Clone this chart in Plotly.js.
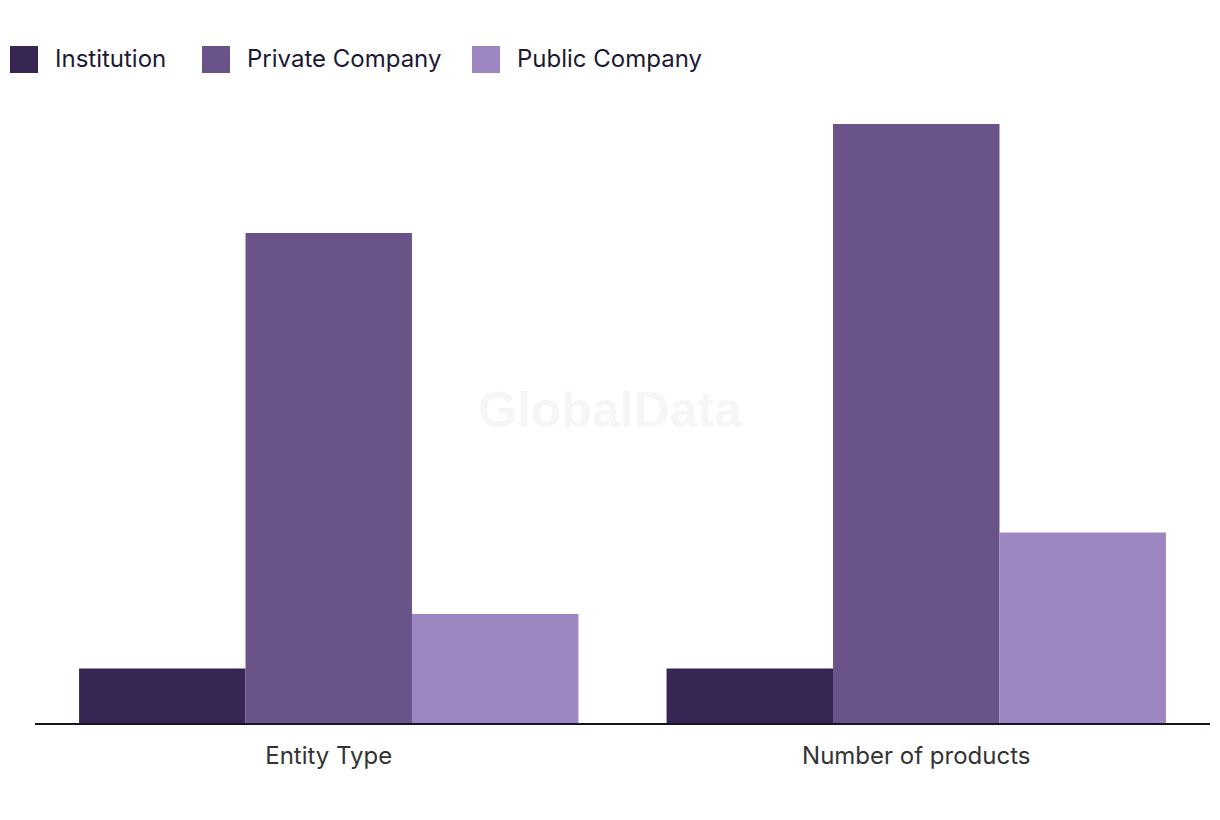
<!DOCTYPE html>
<html>
<head>
<meta charset="utf-8">
<script src="https://cdn.plot.ly/plotly-3.0.1.min.js"></script>
<style>html,body{margin:0;padding:0;background:#fff}#chart{width:1220px;height:820px}</style>
</head>
<body>
<div id="chart"></div>
<script>
const categories = ["Entity Type", "Number of products"];
const seriesNames = ["Institution", "Private Company", "Public Company"];
const institution = [2, 2];
const privateCompany = [18, 22];
const publicCompany = [4, 7];
const colors = ["#372554", "#6a5389", "#9e87c0"];

const seriesValues = [institution, privateCompany, publicCompany];
const traces = seriesNames.map((name, i) => ({
  type: "bar",
  name: name,
  x: categories,
  y: seriesValues[i],
  marker: { color: colors[i], line: { width: 0 } },
  hoverinfo: "x+y+name"
}));

const legendX = [10, 202, 472];
const shapes = [];
const annotations = [];
seriesNames.forEach((name, i) => {
  shapes.push({
    type: "rect", xref: "paper", yref: "paper",
    x0: (legendX[i] - 35) / 1175, x1: (legendX[i] + 28 - 35) / 1175,
    y0: (723 - 73) / 623, y1: (723 - 46) / 623,
    fillcolor: colors[i], line: { width: 0 }
  });
  annotations.push({
    xref: "paper", yref: "paper",
    x: (legendX[i] + 43 - 35) / 1175, y: (723 - 58) / 623,
    xanchor: "left", yanchor: "middle", showarrow: false,
    text: name, font: { family: "Inter, sans-serif", size: 24, color: "#1c1a33" }
  });
});
annotations.push({
  xref: "paper", yref: "paper", x: (610 - 35) / 1175, y: (723 - 410) / 623,
  xanchor: "center", yanchor: "middle", showarrow: false,
  text: "<b>GlobalData</b>",
  font: { family: "Liberation Sans, Arial, sans-serif", size: 50, color: "#f6f6f6" }
});

const layout = {
  width: 1220, height: 820,
  margin: { l: 35, r: 10, t: 100, b: 97 },
  paper_bgcolor: "#ffffff", plot_bgcolor: "#ffffff",
  barmode: "group", bargap: 0.15, bargroupgap: 0,
  showlegend: false,
  xaxis: {
    showline: true, linecolor: "#14142b", linewidth: 2,
    ticks: "", ticklabelstandoff: 10,
    tickfont: { family: "Inter, sans-serif", size: 24, color: "#333333" },
    showgrid: false, zeroline: false
  },
  yaxis: {
    range: [0, 22.88], visible: false, showgrid: false, zeroline: false
  },
  shapes: shapes,
  annotations: annotations
};

Plotly.newPlot("chart", traces, layout, { displayModeBar: false, staticPlot: true });
</script>
</body>
</html>
